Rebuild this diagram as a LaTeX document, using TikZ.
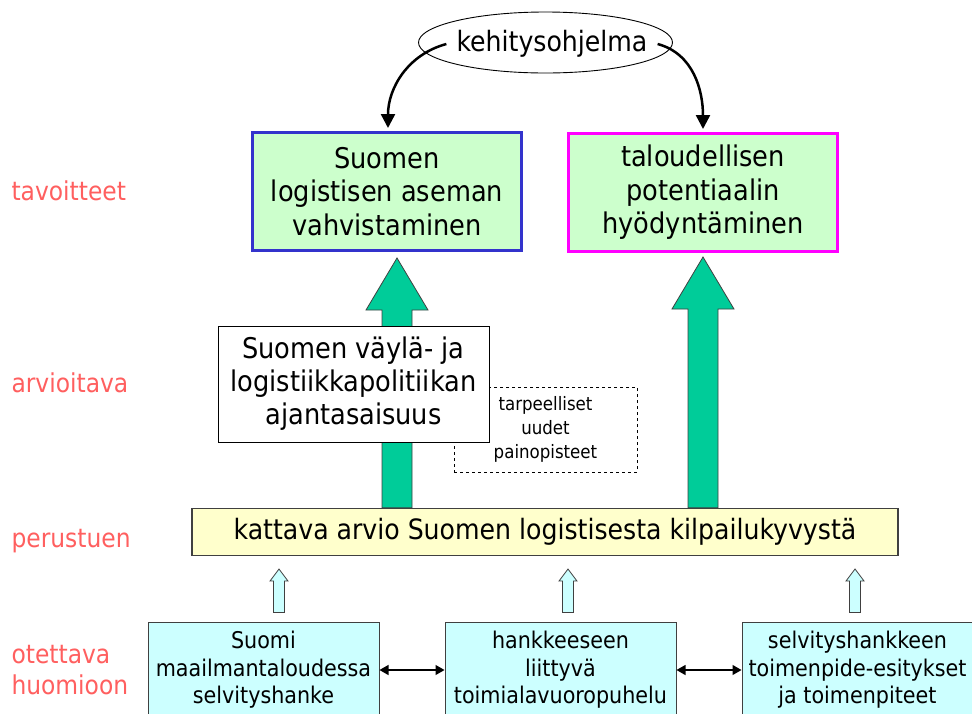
\documentclass[tikz,border=0pt]{standalone}
\usepackage{fontspec}
\setmainfont{DejaVu Sans Condensed}
\usetikzlibrary{arrows.meta,positioning,calc,shapes.geometric}
\pgfdeclarelayer{bg}
\pgfsetlayers{bg,main}
\definecolor{goalfill}{HTML}{CCFFCC}
\definecolor{goalblue}{HTML}{3333CC}
\definecolor{goalmag}{HTML}{FF00FF}
\definecolor{arrgreen}{HTML}{00CC99}
\definecolor{basefill}{HTML}{FFFFCC}
\definecolor{infill}{HTML}{CCFFFF}
\definecolor{lblred}{HTML}{FF5F5F}
\definecolor{edgegray}{HTML}{404040}
\tikzset{
  goal/.style={draw, line width=3pt, fill=goalfill, minimum width=269pt,
    minimum height=118pt, align=center, font=\fontsize{28.5}{33.5}\selectfont},
  plainbox/.style={draw, line width=1pt, fill=white, minimum width=271pt,
    minimum height=116pt, align=center, font=\fontsize{28.5}{33}\selectfont},
  dashbox/.style={draw, dashed, line width=0.9pt, minimum width=183pt,
    minimum height=85pt, align=center, font=\fontsize{18.5}{24}\selectfont},
  basebox/.style={draw=edgegray, line width=1.3pt, fill=basefill, minimum width=706pt,
    minimum height=47pt, font=\fontsize{28}{32}\selectfont},
  inbox/.style={draw=edgegray, line width=1pt, fill=infill, minimum width=231pt,
    minimum height=96pt, align=center, font=\fontsize{23}{27.5}\selectfont},
  lbl/.style={anchor=west, align=left, text=lblred, font=\fontsize{26}{31}\selectfont},
  bigarr/.style={draw=edgegray, line width=0.8pt, fill=arrgreen},
  smallarr/.style={draw=edgegray, line width=0.8pt, fill=infill},
  curvarr/.style={line width=2.5pt, -{Triangle[length=14pt,width=14pt]}},
  duoarr/.style={line width=1.2pt, {Triangle[length=9pt,width=10pt]}-{Triangle[length=9pt,width=10pt]}}
}
% block arrow: base #1, tip #2
\newcommand{\bigarrow}[2]{\draw[bigarr] ($(#1)+(-15,0)$) -- ($(#2)+(-15,52)$) -- ($(#2)+(-31,52)$)
  -- (#2) -- ($(#2)+(31,52)$) -- ($(#2)+(15,52)$) -- ($(#1)+(15,0)$) -- cycle;}
\newcommand{\smallarrow}[2]{\draw[smallarr] ($(#1)+(-5.5,0)$) -- ($(#2)+(-5.5,12)$) -- ($(#2)+(-9,12)$)
  -- (#2) -- ($(#2)+(9,12)$) -- ($(#2)+(5.5,12)$) -- ($(#1)+(5.5,0)$) -- cycle;}

\begin{document}
\begin{tikzpicture}[x=1pt, y=-1pt]
\useasboundingbox (0,0) rectangle (972,713);

% row labels
\node[lbl] (tav) at (8,191) {tavoitteet};
\node[lbl] (arv) at (8,383) {arvioitava};
\node[lbl] (per) at (8,541) {perustuen};
\node[lbl] (ote) at (8,670) {otettava\\huomioon};

% top
\node[inner xsep=10pt, font=\fontsize{28}{32}\selectfont] (kehi) at (552,44) {kehitysohjelma};
\draw[line width=0.9pt] (545.5,42.5) ellipse [x radius=127pt, y radius=30.5pt];
\node[goal, draw=goalblue] (vahv) at (387,191.5) {Suomen\\logistisen aseman\\vahvistaminen};
\node[goal, draw=goalmag] (talo) at (703,192.5) {taloudellisen\\potentiaalin\\hyödyntäminen};
\draw[curvarr] (kehi.west) to[out=195, in=90] ($(vahv.north)+(1,-3)$);
\draw[curvarr] (kehi.east) to[out=-15, in=90] ($(talo.north)+(0,-3)$);

% middle
\node[dashbox] (paino) at (545.5,429.5) {tarpeelliset\\uudet\\painopisteet};
\node[plainbox] (polit) at (353.5,384) {Suomen väylä- ja\\logistiikkapolitiikan\\ajantasaisuus};
\node[basebox] (arvio) at (545,532) {kattava arvio Suomen logistisesta kilpailukyvystä};

% bottom
\node[inbox] (maail) at (263.5,670) {Suomi\\maailmantaloudessa\\selvityshanke};
\node[inbox] (vuoro) at (560.5,670) {hankkeeseen\\liittyvä\\toimialavuoropuhelu};
\node[inbox] (toimen) at (857.5,670) {selvityshankkeen\\toimenpide-esitykset\\ja toimenpiteet};
\draw[duoarr] (maail) -- (vuoro);
\draw[duoarr] (vuoro) -- (toimen);

% arrows up
\begin{pgfonlayer}{bg}
\coordinate (t1) at ($(vahv.south)+(10,6)$);
\coordinate (t2) at ($(talo.south)+(0,4)$);
\path (t1 |- arvio.north) coordinate (b1);
\path (t2 |- arvio.north) coordinate (b2);
\bigarrow{b1}{t1}
\bigarrow{b2}{t2}
\end{pgfonlayer}
\coordinate (u1) at (279,569);
\coordinate (u2) at (568,569);
\coordinate (u3) at (855,569);
\path (u1 |- maail.north) ++(0,-9) coordinate (v1);
\path (u2 |- vuoro.north) ++(0,-9) coordinate (v2);
\path (u3 |- toimen.north) ++(0,-9) coordinate (v3);
\smallarrow{v1}{u1}
\smallarrow{v2}{u2}
\smallarrow{v3}{u3}
\end{tikzpicture}
\end{document}
